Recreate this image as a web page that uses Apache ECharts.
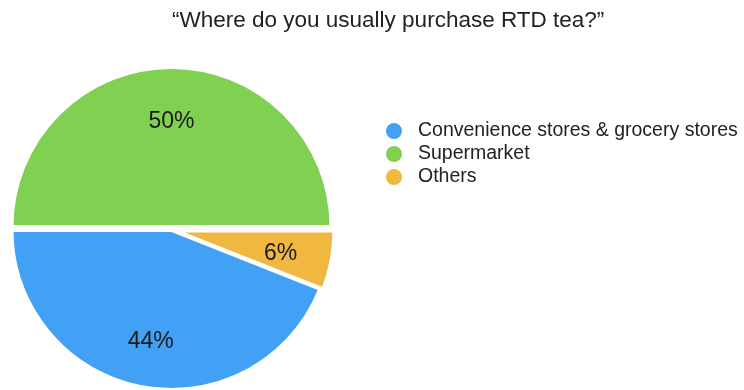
<!DOCTYPE html>
<html><head><meta charset="utf-8">
<script src="https://cdn.jsdelivr.net/npm/echarts@6/dist/echarts.min.js"></script>
<style>html,body{margin:0;padding:0;background:#fff}#c{width:744px;height:390px}</style>
</head><body><div id="c"></div>
<script>
const titleText = '\u201CWhere do you usually purchase RTD tea?\u201D';
const categories = ['Supermarket', 'Others', 'Convenience stores & grocery stores'];
const values = [50, 6, 44];
const colors = ['#80D152', '#F0B840', '#42A1F5'];
const legendOrder = ['Convenience stores & grocery stores', 'Supermarket', 'Others'];
const selectedCats = ['Supermarket', 'Others'];

const chart = echarts.init(document.getElementById('c'), null, {renderer: 'canvas'});
const font = '"Liberation Sans", Arial, Helvetica, sans-serif';
const baseData = categories.map((c, i) => ({name: c, value: values[i], itemStyle: {color: colors[i]}}));
chart.setOption({
  animation: false,
  title: {text: titleText, left: 167, top: 4,
    textStyle: {fontFamily: font, fontSize: 22.5, fontWeight: 'normal', color: '#222'}},
  legend: {
    data: legendOrder, orient: 'vertical', left: 379, top: 116,
    icon: 'circle', itemWidth: 18, itemHeight: 18, itemGap: 3,
    textStyle: {fontFamily: font, fontSize: 19.5, color: '#222', padding: [0, 0, 0, 10]},
    selectedMode: false
  },
  series: [{
    type: 'pie', center: [171.5, 230], radius: [0, 160],
    startAngle: 180, clockwise: true,
    selectedMode: 'multiple', selectedOffset: 3,
    itemStyle: {borderColor: '#fff', borderWidth: 4},
    label: {show: false}, labelLine: {show: false},
    emphasis: {disabled: true},
    data: baseData.map(d => Object.assign({}, d, {selected: selectedCats.includes(d.name)}))
  }, {
    type: 'pie', center: [171.5, 230], radius: [56, 160],
    startAngle: 180, clockwise: true, silent: true,
    itemStyle: {color: 'transparent', borderWidth: 0},
    label: {show: true, position: 'inside', formatter: '{c}%', offset: [0, 3],
      fontFamily: font, fontSize: 23, color: '#1a1a1a'},
    labelLine: {show: false},
    emphasis: {disabled: true},
    legendHoverLink: false,
    data: categories.map((c, i) => ({name: c + ' ', value: values[i], itemStyle: {color: 'transparent'}}))
  }]
});
</script></body></html>
